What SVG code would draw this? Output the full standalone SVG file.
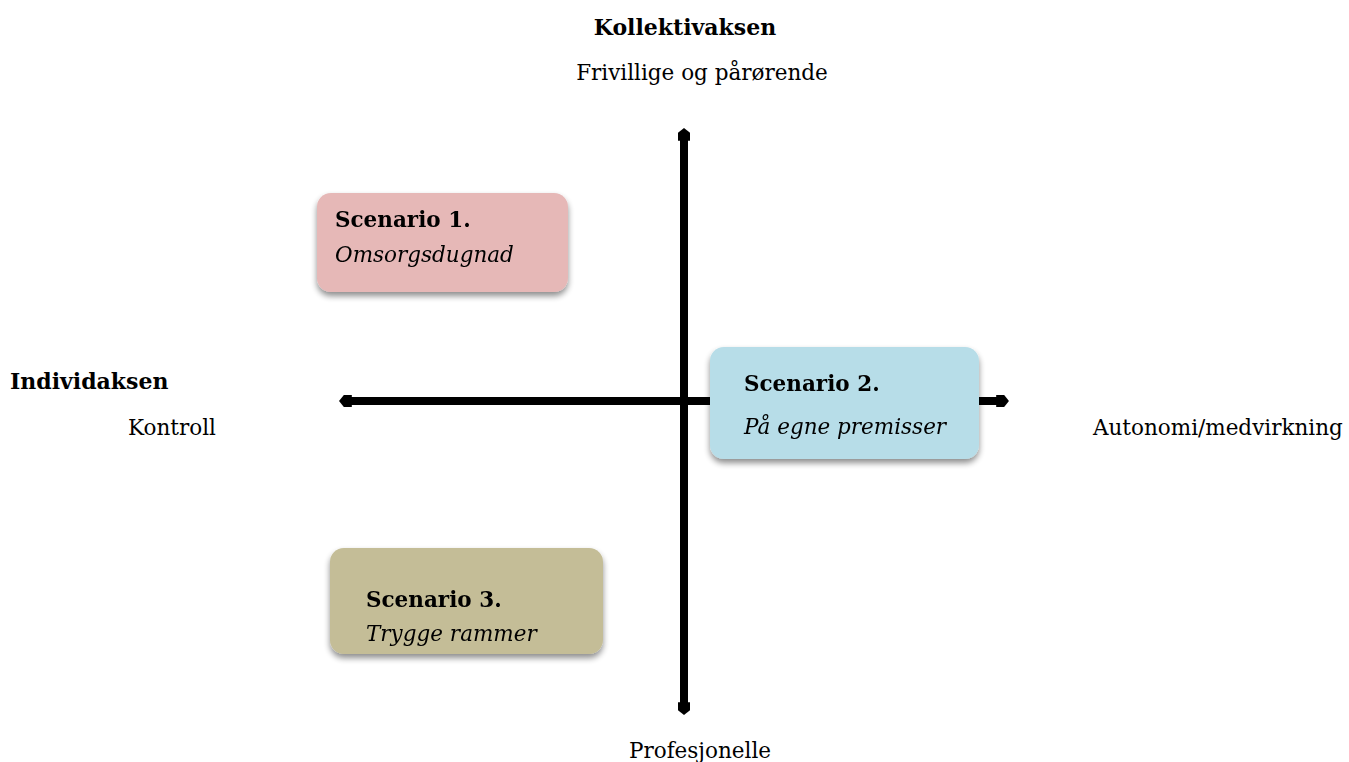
<svg xmlns="http://www.w3.org/2000/svg" width="1349" height="762" viewBox="0 0 1349 762">
  <defs>
    <filter id="shadow" x="-10%" y="-10%" width="120%" height="130%">
      <feGaussianBlur in="SourceAlpha" stdDeviation="3"/>
      <feOffset dx="0" dy="4" result="b"/>
      <feComponentTransfer><feFuncA type="linear" slope="0.45"/></feComponentTransfer>
      <feMerge><feMergeNode/><feMergeNode in="SourceGraphic"/></feMerge>
    </filter>
    <marker id="head" viewBox="0 0 10 10" refX="3" refY="5" markerWidth="1.6" markerHeight="1.6" orient="auto" markerUnits="strokeWidth">
      <path d="M0,0 L6,0 L10,5 L6,10 L0,10 Z" fill="#000"/>
    </marker>
  </defs>
  <style>
    text { font-family: "DejaVu Serif", Georgia, serif; fill: #000; }
    .title { font-size: 22px; font-weight: bold; }
    .label { font-size: 21.5px; }
    .head { font-size: 21.5px; font-weight: bold; }
    .sub { font-size: 21.5px; font-style: italic; }
    .axis { stroke: #000; stroke-width: 8; fill: none; marker-end: url(#head); }
    .box { filter: url(#shadow); }
  </style>
  <rect width="1349" height="762" fill="#fff"/>

  <!-- axes -->
  <g id="connectors">
    <line class="axis" x1="684" y1="401" x2="684" y2="137"/>
    <line class="axis" x1="684" y1="401" x2="684" y2="706"/>
    <line class="axis" x1="684" y1="401" x2="348" y2="401"/>
    <line class="axis" x1="684" y1="401" x2="1000" y2="401"/>
  </g>

  <!-- axis labels -->
  <g id="axis-labels">
    <text class="title" x="685" y="35" text-anchor="middle">Kollektivaksen</text>
    <text class="label" x="702" y="80" text-anchor="middle">Frivillige og pårørende</text>
    <text class="title" x="10" y="389">Individaksen</text>
    <text class="label" x="128" y="435">Kontroll</text>
    <text class="label" x="1093" y="435">Autonomi/medvirkning</text>
    <text class="label" x="700" y="758" text-anchor="middle">Profesjonelle</text>
  </g>

  <g id="scenario1" class="box">
    <rect x="317" y="193" width="251" height="99" rx="14" fill="#e6b8b7"/>
    <text class="head" x="335" y="227">Scenario 1.</text>
    <text class="sub" x="335" y="262">Omsorgsdugnad</text>
  </g>

  <g id="scenario2" class="box">
    <rect x="710" y="347" width="269" height="112" rx="14" fill="#b7dde8"/>
    <text class="head" x="744" y="391">Scenario 2.</text>
    <text class="sub" x="744" y="434">På egne premisser</text>
  </g>

  <g id="scenario3" class="box">
    <rect x="330" y="548" width="273" height="106" rx="14" fill="#c4bd97"/>
    <text class="head" x="366" y="607">Scenario 3.</text>
    <text class="sub" x="366" y="641">Trygge rammer</text>
  </g>
</svg>
